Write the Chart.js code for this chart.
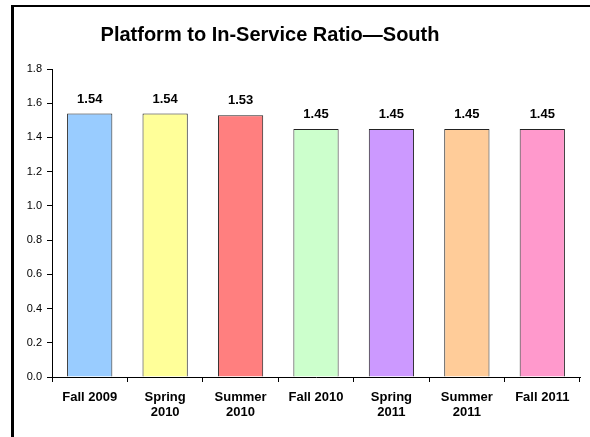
<!DOCTYPE html>
<html>
<head>
<meta charset="utf-8">
<script src="https://cdn.jsdelivr.net/npm/chart.js@4"></script>
<style>
  html, body { margin: 0; padding: 0; background: #fff; }
  #wrap { position: relative; width: 590px; height: 437px; overflow: hidden; }
  #frame { position: absolute; left: 11px; top: 5px; width: 576px; height: 440px;
           border-top: 2px solid #000; border-left: 3px solid #000; border-right: 1px solid #c8c8c8; }
  canvas { position: absolute; left: 0; top: 0; }
</style>
</head>
<body>
<div id="wrap">
  <div id="frame"></div>
  <canvas id="c" width="590" height="437"></canvas>
</div>
<script>
const categories = [["Fall 2009"], ["Spring", "2010"], ["Summer", "2010"], ["Fall 2010"], ["Spring", "2011"], ["Summer", "2011"], ["Fall 2011"]];
const ratios = [1.54, 1.54, 1.53, 1.45, 1.45, 1.45, 1.45];
const barColors = ["#99CCFF", "#FFFF99", "#FF7F7F", "#CCFFCC", "#CC99FF", "#FFCC99", "#FF99CC"];
const chartTitle = "Platform to In-Service Ratio\u2014South";

const titlePlugin = {
  id: 'customTitle',
  afterDraw(chart) {
    const ctx = chart.ctx;
    ctx.save();
    ctx.font = 'bold 20px "Liberation Sans", Arial, sans-serif';
    ctx.fillStyle = '#000';
    ctx.textAlign = 'center';
    ctx.textBaseline = 'middle';
    ctx.fillText(chartTitle, 270, 35);
    ctx.restore();
  }
};
const labelPlugin = {
  id: 'valueLabels',
  afterDatasetsDraw(chart) {
    const ctx = chart.ctx;
    const meta = chart.getDatasetMeta(0);
    ctx.save();
    ctx.font = 'bold 13px "Liberation Sans", Arial, sans-serif';
    ctx.fillStyle = '#000';
    ctx.textAlign = 'center';
    ctx.textBaseline = 'bottom';
    meta.data.forEach((bar, i) => {
      ctx.fillText(ratios[i].toFixed(2), bar.x, bar.y - 8);
    });
    ctx.restore();
  }
};

new Chart(document.getElementById('c'), {
  type: 'bar',
  data: {
    labels: categories,
    datasets: [{
      data: ratios,
      backgroundColor: barColors,
      borderColor: '#222',
      borderWidth: 1,
      barPercentage: 0.6,
      categoryPercentage: 1.0
    }]
  },
  options: {
    responsive: false,
    animation: false,
    layout: { padding: { left: 0, right: 10, top: 69, bottom: 0 } },
    plugins: { legend: { display: false }, title: { display: false }, tooltip: { enabled: false } },
    scales: {
      x: {
        offset: true,
        grid: { offset: true, drawOnChartArea: false, drawTicks: true, tickLength: 5, color: '#000' },
        border: { display: true, color: '#000', width: 1 },
        ticks: { color: '#000', font: { family: '"Liberation Sans", Arial, sans-serif', size: 13, weight: 'bold', lineHeight: 1.15 }, padding: 8, maxRotation: 0, autoSkip: false },
        afterFit(scale) { scale.height = 60; }
      },
      y: {
        min: 0, max: 1.8,
        ticks: { stepSize: 0.2, color: '#000', font: { family: '"Liberation Sans", Arial, sans-serif', size: 11 }, padding: 5,
                 callback: v => Number(v).toFixed(1) },
        grid: { drawOnChartArea: false, drawTicks: true, tickLength: 5, color: '#000' },
        border: { display: true, color: '#000', width: 1 },
        afterFit(scale) { scale.width = 52; }
      }
    }
  },
  plugins: [titlePlugin, labelPlugin]
});
</script>
</body>
</html>
